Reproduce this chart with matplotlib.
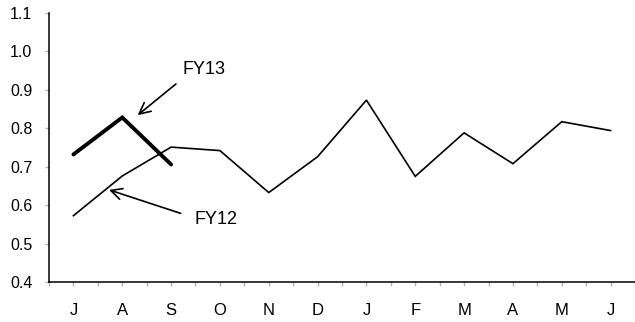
import matplotlib
matplotlib.use("Agg")
import matplotlib.pyplot as plt
import numpy as np

plt.rcParams['font.family'] = ['Liberation Sans', 'DejaVu Sans']

months = ["J", "A", "S", "O", "N", "D", "J", "F", "M", "A", "M", "J"]
fy12 = [0.573, 0.676, 0.751, 0.742, 0.633, 0.726, 0.873, 0.675, 0.788, 0.708, 0.817, 0.794]
fy13 = [0.732, 0.828, 0.706]
yticks = [0.4, 0.5, 0.6, 0.7, 0.8, 0.9, 1.0, 1.1]

fig = plt.figure(figsize=(6.35, 3.22), dpi=100)
ax = fig.add_axes([49/635, 1 - 282.3/322, 1 - 49/635, (282.3 - 12.7)/322])

x12 = np.arange(len(fy12))
x13 = np.arange(len(fy13))
ax.plot(x12, fy12, color='black', lw=1.2, solid_joinstyle='miter')
ax.plot(x13, fy13, color='black', lw=2.8, solid_capstyle='round', solid_joinstyle='miter')

ax.set_xlim(-0.5, 11.5)
ax.set_ylim(0.4, 1.1)
ax.set_yticks(yticks)
ax.set_yticklabels([f"{v:.1f}" for v in yticks])
ax.set_xticks(x12)
ax.set_xticklabels(months)
ax.set_xticks(np.arange(-0.5, 12, 1.0), minor=True)

for s in ['top', 'right']:
    ax.spines[s].set_visible(False)
for s in ['left', 'bottom']:
    ax.spines[s].set_linewidth(1.1)
    ax.spines[s].set_color('black')

ax.tick_params(axis='both', which='both', direction='out', color='#b0b0b0',
               length=3, width=1, labelcolor='black')
ax.tick_params(axis='x', which='major', pad=12, labelsize=12)
ax.tick_params(axis='y', which='major', pad=9, labelsize=11.5)

arrow = dict(arrowstyle='->', color='black', lw=1.2, mutation_scale=20,
             shrinkA=0, shrinkB=0)
ax.annotate("", xy=(1.316, 0.834), xytext=(2.10, 0.915), arrowprops=arrow)
ax.text(2.244, 0.953, "FY13", fontsize=13, ha='left', va='center')
ax.annotate("", xy=(0.729, 0.640), xytext=(2.197, 0.579), arrowprops=arrow)
ax.text(2.476, 0.563, "FY12", fontsize=13, ha='left', va='center')

fig.savefig("out.png", dpi=100)
